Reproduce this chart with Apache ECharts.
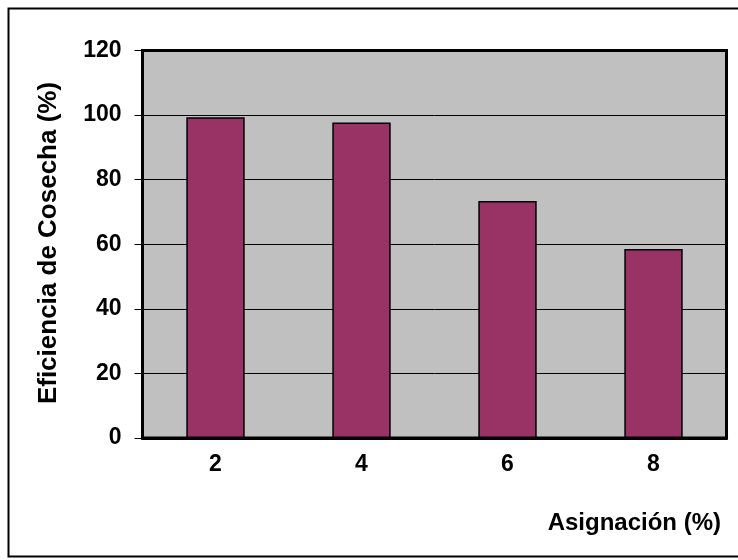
<!DOCTYPE html>
<html>
<head>
<meta charset="utf-8">
<style>
  html, body { margin: 0; padding: 0; background: #ffffff; }
  #chart { width: 738px; height: 560px; }
</style>
<script src="https://cdn.jsdelivr.net/npm/echarts@6/dist/echarts.min.js"></script>
</head>
<body>
<div id="chart"></div>
<script>
// Asignación (%) categories and harvest efficiency values
const categories = ['2', '4', '6', '8'];
const eficiencia = [99.3, 97.7, 73.4, 58.5];

// Value axis range
const yMin = 0;
const yMax = 120;
const yStep = 20;

const xTitle = 'Asignación (%)';
const yTitle = 'Eficiencia de Cosecha (%)';

const font = '"Liberation Sans", Arial, sans-serif';

const chart = echarts.init(document.getElementById('chart'), null, { renderer: 'canvas' });

chart.setOption({
  animation: false,
  backgroundColor: '#ffffff',
  grid: {
    left: 142.5,
    right: 11.5,
    top: 50.5,
    bottom: 122,
    show: true,
    backgroundColor: '#c0c0c0',
    borderColor: '#000000',
    borderWidth: 3
  },
  xAxis: {
    type: 'category',
    data: categories,
    axisLine: { show: true, lineStyle: { color: '#000', width: 3 } },
    axisTick: { show: false },
    axisLabel: {
      color: '#000',
      fontFamily: font,
      fontWeight: 'bold',
      fontSize: 23,
      margin: 15
    },
    splitLine: { show: false }
  },
  yAxis: {
    type: 'value',
    min: yMin,
    max: yMax,
    interval: yStep,
    axisLine: { show: true, lineStyle: { color: '#000', width: 3 } },
    axisTick: { show: true, length: 8, lineStyle: { color: '#000', width: 1 } },
    axisLabel: {
      color: '#000',
      fontFamily: font,
      fontWeight: 'bold',
      fontSize: 23,
      margin: 21
    },
    splitLine: { show: true, lineStyle: { color: '#000', width: 1 } }
  },
  series: [{
    type: 'bar',
    data: eficiencia,
    barWidth: '40%',
    itemStyle: {
      color: '#993366',
      borderColor: '#000',
      borderWidth: 1.5
    }
  }],
  graphic: [
    {
      type: 'rect',
      shape: { x: 8.5, y: 8.5, width: 740, height: 548 },
      style: { fill: 'none', stroke: '#000', lineWidth: 2 },
      silent: true,
      z: 100
    },
    {
      type: 'text',
      x: 721,
      y: 523,
      style: {
        text: xTitle,
        fill: '#000',
        font: 'bold 24px ' + font,
        align: 'right',
        verticalAlign: 'middle'
      }
    },
    {
      type: 'text',
      x: 49,
      y: 243,
      rotation: Math.PI / 2,
      style: {
        text: yTitle,
        fill: '#000',
        font: 'bold 26px ' + font,
        align: 'center',
        verticalAlign: 'middle'
      }
    }
  ]
});
</script>
</body>
</html>
